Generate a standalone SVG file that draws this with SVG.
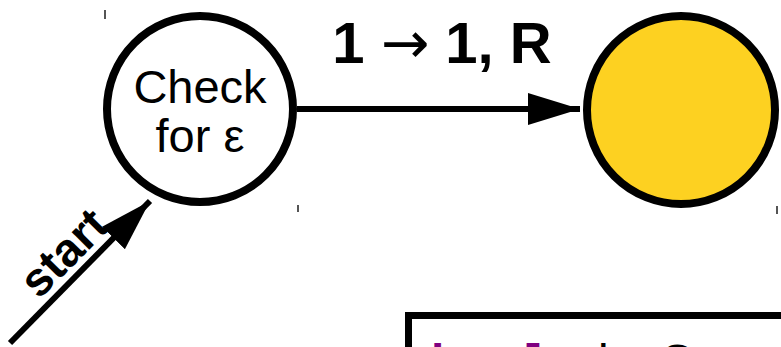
<svg xmlns="http://www.w3.org/2000/svg" width="781" height="347" viewBox="0 0 781 347">
<style>
.state{stroke:#000;stroke-width:8}
.lbl{font-family:"Liberation Sans",Arial,sans-serif;fill:#000}
.tick{stroke:#555;stroke-width:2}
</style>
<defs>
<marker id="ah" markerUnits="userSpaceOnUse" markerWidth="60" markerHeight="40" refX="52" refY="16" orient="auto">
<path d="M0,0 L52,16 L0,32 Z" fill="#000"/>
</marker>
</defs>
<rect width="781" height="347" fill="#fff"/>
<g id="ticks">
<line class="tick" x1="105" y1="10" x2="105" y2="19" stroke="#000"/>
<line class="tick" x1="298" y1="205" x2="298" y2="212"/>
<line class="tick" x1="777" y1="206" x2="777" y2="214" stroke="#888"/>
</g>
<g id="connectors">
<line x1="297" y1="109" x2="580" y2="109" stroke="#000" stroke-width="6" marker-end="url(#ah)"/>
<line x1="10" y1="343" x2="150" y2="201" stroke="#000" stroke-width="6" marker-end="url(#ah)"/>
<text class="lbl" x="442" y="63" font-size="58" font-weight="bold" text-anchor="middle">1 <tspan font-weight="normal" font-family="DejaVu Sans, sans-serif">→</tspan> 1, R</text>
<text class="lbl" font-size="47" font-weight="bold" text-anchor="middle" transform="translate(75,264) rotate(-45)">start</text>
</g>
<g id="check">
<circle class="state" cx="200" cy="109" r="93" fill="#fff"/>
<text class="lbl" x="200" y="103" font-size="47" text-anchor="middle">Check</text>
<text class="lbl" x="200" y="152" font-size="47" text-anchor="middle">for ε</text>
</g>
<g id="accept">
<circle class="state" cx="681" cy="110" r="94" fill="#FDD121"/>
</g>
<g id="box">
<rect x="408.5" y="315.5" width="400" height="100" fill="#fff" stroke="#000" stroke-width="7"/>
<text class="lbl" y="378" font-size="48"><tspan x="431" font-weight="bold" fill="#800080">l</tspan><tspan x="526" font-weight="bold" fill="#800080">]</tspan><tspan x="598">i</tspan><tspan x="609">s</tspan><tspan x="659">C</tspan></text>
</g>
</svg>
